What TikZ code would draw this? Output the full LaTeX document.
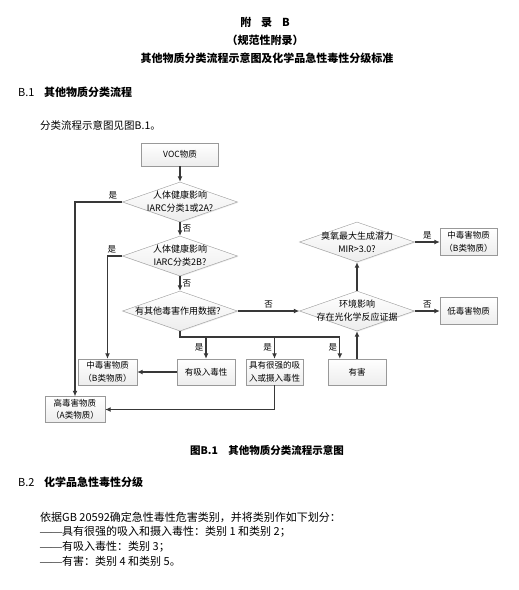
\documentclass[tikz,border=0pt]{standalone}
\usepackage{fontspec}
\setmainfont{Noto Sans CJK SC}
\newfontfamily\dashfont{Liberation Serif}
\usetikzlibrary{arrows.meta,shapes.geometric,shadows}

\newcommand{\ddash}{{\dashfont ——}}

\begin{document}
\begin{tikzpicture}[x=1pt, y=-1pt, every node/.style={inner sep=0pt}, >={Latex[length=5.5pt,width=5pt]},
	box/.style={draw=black!40, top color=white, bottom color=black!7, drop shadow={opacity=0.15, shadow xshift=0.8pt, shadow yshift=-0.8pt}, minimum width=58pt, minimum height=26pt, align=center, font=\fontsize{8.5}{12.5}\selectfont},
	decision/.style={diamond, aspect=2.875, draw=black!40, top color=white, bottom color=black!7, drop shadow={opacity=0.15, shadow xshift=0.8pt, shadow yshift=-0.8pt}, minimum width=115pt, minimum height=40pt, inner xsep=-8pt, inner ysep=-4pt, align=center, font=\fontsize{9}{13}\selectfont},
	flow/.style={->, draw=black!78, line width=1.2pt},
	lbl/.style={font=\fontsize{8.5}{10}\selectfont, inner sep=2pt},
	hd/.style={font=\fontsize{11}{13}\selectfont\bfseries},
	txt/.style={anchor=west, font=\fontsize{11}{13}\selectfont}]
	\fill[white] (0,0) rectangle (519,590);
	\useasboundingbox (0,0) rectangle (519,590);
	% headings
	\node[hd] (appx) at (265,22) {附\hspace{0.9em}录\hspace{0.9em}B};
	\node[hd] (norm) at (265,40) {（规范性附录）};
	\node[hd] (title) at (267,58) {其他物质分类流程示意图及化学品急性毒性分级标准};
	\node[hd, anchor=west] (sec1) at (18,92) {\makebox[26pt][l]{\mdseries B.1}其他物质分类流程};
	\node[txt, font=\fontsize{10.5}{13}\selectfont] (intro) at (40,125) {分类流程示意图见图B.1。};
	% flow chart
	\node[box, minimum width=77pt, minimum height=23pt] (voc) at (180,154.5) {VOC物质};
	\node[decision] (iarc1) at (180,202) {人体健康影响\\IARC分类1或2A?};
	\node[decision] (iarc2) at (180,256) {人体健康影响\\IARC分类2B?};
	\node[decision] (other) at (180,311) {有其他毒害作用数据？};
	\node[decision] (env) at (357,311) {环境影响\\存在光化学反应证据};
	\node[decision] (mir) at (357,242) {臭氧最大生成潜力\\MIR>3.0?};
	\node[box, minimum width=57pt, minimum height=27pt] (midR) at (468.5,242) {中毒害物质\\（B类物质）};
	\node[box, minimum width=57pt, minimum height=27pt] (low) at (468.5,311) {低毒害物质};
	\node[box, minimum width=59pt] (midL) at (107.5,372) {中毒害物质\\（B类物质）};
	\node[box] (inhal) at (206,372) {有吸入毒性};
	\node[box, minimum width=57pt] (strong) at (274.5,372) {具有很强的吸\\入或摄入毒性};
	\node[box] (harm) at (357,372) {有害};
	\node[box, minimum width=60pt] (high) at (75,409.5) {高毒害物质\\（A类物质）};
	\coordinate (bus) at (180,337);
	\coordinate (harmin) at ([xshift=12pt]harm.north west);
	\draw[flow] (voc) -- (iarc1);
	\draw[flow] (iarc1) -- node[lbl, right] {否} (iarc2);
	\draw[flow] (iarc2) -- node[lbl, right] {否} (other);
	\draw[flow] (iarc1.west) -| node[lbl, above, pos=0.1] {是} (high.north);
	\draw[flow] (iarc2.west) -| node[lbl, above, pos=0.35] {是} (midL.north);
	\draw[flow] (other.south) -- (bus) -| node[lbl, left, pos=0.75] {是} (harmin);
	\draw[flow] (bus -| inhal) -- node[lbl, left] {是} (inhal);
	\draw[flow] (bus -| strong) -- node[lbl, left] {是} (strong);
	\draw[flow] (other) -- node[lbl, above] {否} (env);
	\draw[flow] (harm) -- (env);
	\draw[flow] (env) -- (mir);
	\draw[flow] (mir) -- node[lbl, above] {是} (midR);
	\draw[flow] (env) -- node[lbl, above] {否} (low);
	\draw[flow] (inhal) -- (midL);
	\draw[flow] (strong.south) |- (high.east);
	% caption and B.2
	\node[hd, font=\fontsize{10.5}{13}\selectfont\bfseries] (cap) at (267,450) {图B.1\hspace{1em}其他物质分类流程示意图};
	\node[hd, anchor=west] (sec2) at (18,482) {\makebox[26pt][l]{\mdseries B.2}化学品急性毒性分级};
	\node[txt] (l1) at (40,517) {依据GB 20592确定急性毒性危害类别，并将类别作如下划分：};
	\node[txt] (l2) at (40,532) {\ddash 具有很强的吸入和摄入毒性：类别 1 和类别 2；};
	\node[txt] (l3) at (40,547) {\ddash 有吸入毒性：类别 3；};
	\node[txt] (l4) at (40,561) {\ddash 有害：类别 4 和类别 5。};
\end{tikzpicture}
\end{document}
